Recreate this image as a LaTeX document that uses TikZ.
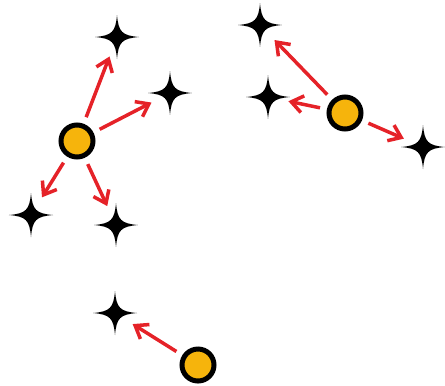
\documentclass[tikz,border=0pt]{standalone}
\usepackage{xcolor}
\usepackage{tikz}
\usetikzlibrary{arrows.meta,calc}
\definecolor{hubfill}{HTML}{F6B40C}
\definecolor{arrred}{HTML}{E52228}
\tikzset{
  hub/.style={circle,draw=black,line width=0.1cm,fill=hubfill,
              minimum size=0.64cm,inner sep=0pt},
  sparkle/.style={circle,inner sep=0pt,minimum size=0.88cm,
    path picture={\fill[black,shift={(path picture bounding box.center)}]
      (0,0.44) .. controls (0.03,0.1) and (0.1,0.03) .. (0.44,0)
      .. controls (0.1,-0.03) and (0.03,-0.1) .. (0,-0.44)
      .. controls (-0.03,-0.1) and (-0.1,-0.03) .. (-0.44,0)
      .. controls (-0.1,0.03) and (-0.03,0.1) .. cycle;}},
  arr/.style={-{Straight Barb[length=2.3mm,width=3.4mm]},draw=arrred,
              line width=0.07cm,shorten <=0.14cm,shorten >=-0.03cm}
}
\begin{document}
\begin{tikzpicture}
  \useasboundingbox (0,0) rectangle (8.9,-7.7);
  \node[hub] (c1) at (1.54,-2.82) {};
  \node[hub] (c2) at (6.90,-2.26) {};
  \node[hub] (c3) at (3.96,-7.30) {};
  \node[sparkle] (s1) at (2.34,-0.74) {};
  \node[sparkle] (s2) at (3.40,-1.86) {};
  \node[sparkle] (s3) at (0.62,-4.30) {};
  \node[sparkle] (s4) at (2.32,-4.50) {};
  \node[sparkle] (s5) at (5.20,-0.50) {};
  \node[sparkle] (s6) at (5.36,-1.94) {};
  \node[sparkle] (s7) at (8.46,-2.94) {};
  \node[sparkle] (s8) at (2.30,-6.26) {};

  \draw[arr] (c1) -- (s1);
  \draw[arr] (c1) -- (s2);
  \draw[arr] (c1) -- (s3);
  \draw[arr] (c1) -- (s4);
  \draw[arr] (c2) -- (s5);
  \draw[arr] (c2) -- (s6);
  \draw[arr] (c2) -- (s7);
  \draw[arr] (c3) -- (s8);
\end{tikzpicture}
\end{document}
